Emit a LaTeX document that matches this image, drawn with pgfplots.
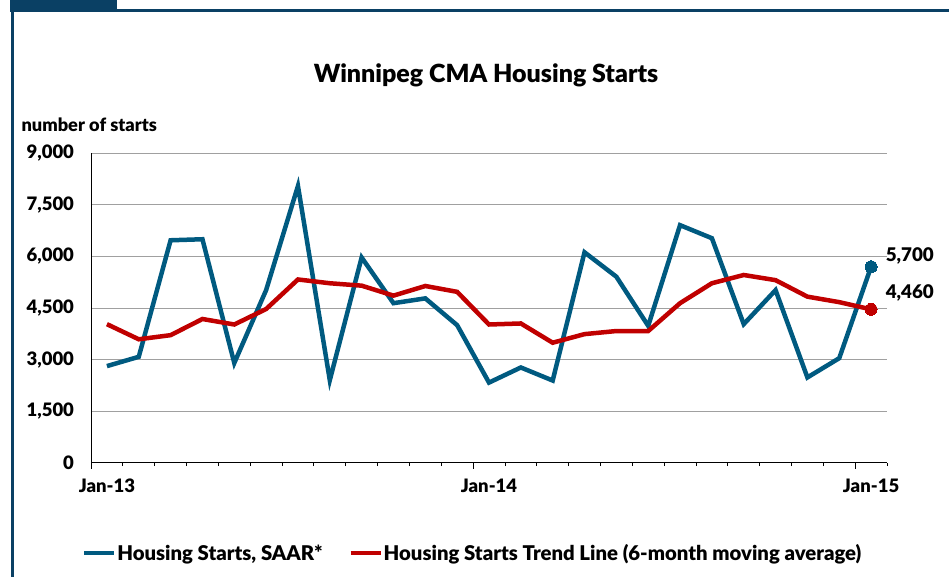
\documentclass[border=0pt]{standalone}
\usepackage{pgfplots}
\pgfplotsset{compat=1.18}
\usepackage{fontspec}
\setmainfont{Lato}[BoldFont={Lato Black}]
\definecolor{frameblue}{RGB}{10,64,100}
\definecolor{serblue}{RGB}{0,90,128}
\definecolor{serred}{RGB}{192,0,0}
\definecolor{gridgray}{RGB}{160,160,160}
\begin{document}
\begin{tikzpicture}[x=1pt,y=1pt]
\path[use as bounding box] (0,0) rectangle (949,577);
% frame
\fill[frameblue] (10,577) rectangle (117,565);
\fill[frameblue] (117,567.5) rectangle (949,564.5);
\fill[frameblue] (11,0) rectangle (13.5,567);
% title
\node[font=\bfseries\fontsize{25}{29}\selectfont] at (486,502) {Winnipeg CMA Housing Starts};
\node[font=\bfseries\fontsize{18.2}{21}\selectfont, anchor=west] at (18,452) {number of starts};
\begin{axis}[
  scale only axis,
  width=796pt, height=309.4pt,
  at={(91pt,114.3pt)}, anchor=south west,
  xmin=0, xmax=25, ymin=0, ymax=9000,
  ytick={0,1500,...,9000},
  ymajorgrids, grid style={gridgray, line width=1pt},
  axis x line*=bottom, axis y line*=left,
  axis line style={black, line width=0.8pt},
  xtick={0,...,25},
  xticklabels={},
  extra x ticks={0,12,24},
  extra x tick labels={},
  extra x tick style={major tick length=6pt, grid=none},
  major tick length=3.5pt,
  tick align=outside,
  x tick style={black, line width=0.8pt},
  ytick style={draw=none},
  yticklabel style={font=\bfseries\fontsize{18.5}{21}\selectfont, xshift=-10pt},
  /pgf/number format/assume math mode=true,
  /pgf/number format/1000 sep={,},
  clip=false,
  legend style={at={(0.479,-0.292)}, anchor=center, draw=none, fill=none,
    font=\bfseries\fontsize{20.3}{23}\selectfont, column sep=0pt,
    nodes={inner xsep=1pt},
    /tikz/every even column/.append style={column sep=25pt}},
  legend columns=2,
  legend image code/.code={\draw[#1, line width=4pt] (0pt,0pt) -- (30pt,0pt);},
  legend cell align=left,
]
\addplot[serblue, line width=4.5pt, mark=*, mark indices={25}, mark options={fill=serblue, draw=serblue, line width=0pt}, mark size=6pt] coordinates {
(0.5,2810) (1.5,3080) (2.5,6470) (3.5,6500) (4.5,2900) (5.5,5020) (6.5,8050)
(7.5,2400) (8.5,5970) (9.5,4640) (10.5,4780) (11.5,4000) (12.5,2330)
(13.5,2770) (14.5,2390) (15.5,6120) (16.5,5410) (17.5,3980) (18.5,6910)
(19.5,6530) (20.5,4030) (21.5,5020) (22.5,2480) (23.5,3040) (24.5,5700)};
\addlegendentry{Housing Starts, SAAR*}
\addplot[serred, line width=4.5pt, mark=*, mark indices={25}, mark options={fill=serred, draw=serred, line width=0pt}, mark size=6pt] coordinates {
(0.5,4030) (1.5,3590) (2.5,3710) (3.5,4180) (4.5,4020) (5.5,4470) (6.5,5330)
(7.5,5220) (8.5,5150) (9.5,4860) (10.5,5140) (11.5,4970) (12.5,4020)
(13.5,4050) (14.5,3490) (15.5,3740) (16.5,3830) (17.5,3830) (18.5,4640)
(19.5,5220) (20.5,5460) (21.5,5310) (22.5,4830) (23.5,4670) (24.5,4460)};
\addlegendentry{Housing Starts Trend Line (6-month moving average)}
\node[font=\bfseries\fontsize{18.8}{22}\selectfont, anchor=west] at (axis cs:24.85,6010) {5,700};
\node[font=\bfseries\fontsize{18.8}{22}\selectfont, anchor=west] at (axis cs:24.85,4940) {4,460};
\node[font=\bfseries\fontsize{18.5}{21}\selectfont] at (axis cs:0.5,-680) {Jan-13};
\node[font=\bfseries\fontsize{18.5}{21}\selectfont] at (axis cs:12.5,-680) {Jan-14};
\node[font=\bfseries\fontsize{18.5}{21}\selectfont] at (axis cs:24.5,-680) {Jan-15};
\end{axis}
\end{tikzpicture}
\end{document}
